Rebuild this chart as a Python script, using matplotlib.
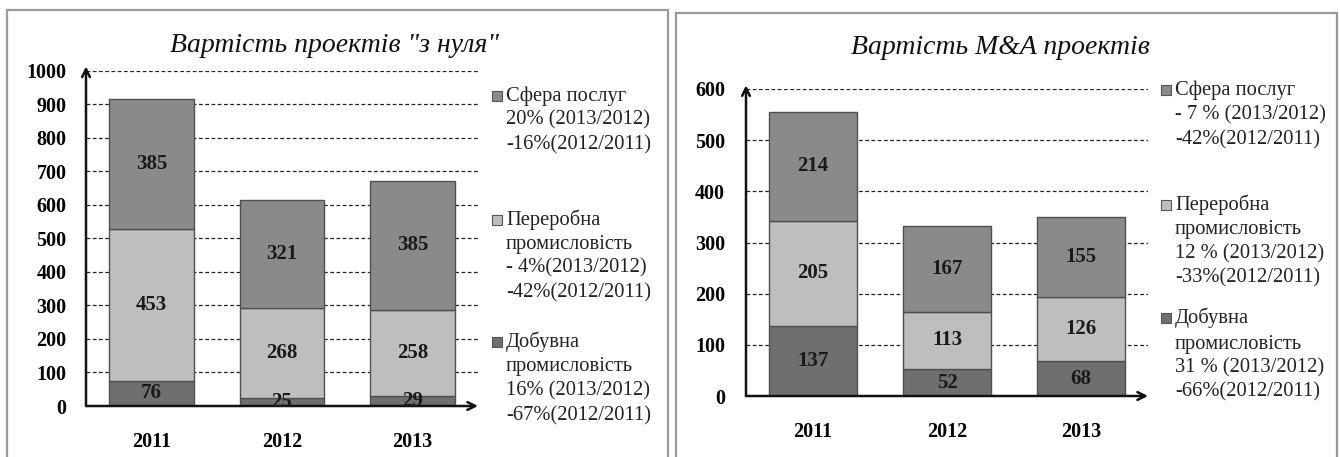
import matplotlib
matplotlib.use("Agg")
import matplotlib.pyplot as plt
from matplotlib.patches import Rectangle

years = ["2011", "2012", "2013"]

# Chart 1: "з нуля"
left_title = 'Вартість проектів "з нуля"'
left_dobuvna = [76, 25, 29]
left_pererobna = [453, 268, 258]
left_sfera = [385, 321, 385]
left_yticks = [0, 100, 200, 300, 400, 500, 600, 700, 800, 900, 1000]
left_legend = [
    ["Сфера послуг", "20% (2013/2012)", "-16%(2012/2011)"],
    ["Переробна", "промисловість", "- 4%(2013/2012)", "-42%(2012/2011)"],
    ["Добувна", "промисловість", "16% (2013/2012)", "-67%(2012/2011)"],
]

# Chart 2: M&A
right_title = "Вартість M&A проектів"
right_dobuvna = [137, 52, 68]
right_pererobna = [205, 113, 126]
right_sfera = [214, 167, 155]
right_yticks = [0, 100, 200, 300, 400, 500, 600]
right_legend = [
    ["Сфера послуг", "- 7 % (2013/2012)", "-42%(2012/2011)"],
    ["Переробна", "промисловість", "12 % (2013/2012)", "-33%(2012/2011)"],
    ["Добувна", "промисловість", "31 % (2013/2012)", "-66%(2012/2011)"],
]

C_SFERA = "#8a8a8a"
C_PERER = "#bebebe"
C_DOB = "#6f6f6f"
EDGE = "#505050"
SERIF = ["Liberation Serif", "DejaVu Serif"]

W, H = 1340, 457
fig = plt.figure(figsize=(W / 100, H / 100), dpi=100)
fig.patch.set_facecolor("white")


def fx(px):
    return px / W


def fy(py):
    return 1 - py / H


# panel borders
for x0, x1, y0 in [(7, 668, 10), (676, 1337, 13)]:
    fig.patches.append(Rectangle((fx(x0), -0.05), fx(x1) - fx(x0), fy(y0) + 0.05,
                                 transform=fig.transFigure, fill=False,
                                 edgecolor="#9a9a9a", linewidth=1.6))


def draw_panel(rect, title, title_xy, dob, per, sfe, yticks, ymax,
               legend, leg_x, leg_sq_x, leg_rows, ypad):
    ax = fig.add_axes(rect)
    x = list(range(len(years)))
    width = 0.65
    b1 = ax.bar(x, dob, width, color=C_DOB, edgecolor=EDGE, linewidth=1, zorder=3)
    bottom2 = dob
    b2 = ax.bar(x, per, width, bottom=bottom2, color=C_PERER, edgecolor=EDGE, linewidth=1, zorder=3)
    bottom3 = [a + b for a, b in zip(dob, per)]
    b3 = ax.bar(x, sfe, width, bottom=bottom3, color=C_SFERA, edgecolor=EDGE, linewidth=1, zorder=3)
    for bars, vals, bots in [(b1, dob, [0] * 3), (b2, per, bottom2), (b3, sfe, bottom3)]:
        for xi, v, b in zip(x, vals, bots):
            ax.text(xi, b + v / 2, str(v), ha="center", va="center",
                    fontsize=15, fontweight="bold", family=SERIF,
                    color="#1a1a1a", zorder=4)
    ax.set_xlim(-0.5, 2.5)
    ax.set_ylim(0, ymax)
    ax.set_yticks(yticks)
    ax.set_yticklabels([str(t) for t in yticks], fontsize=14.5,
                       fontweight="bold", family=SERIF)
    ax.set_xticks(x)
    ax.set_xticklabels(years, fontsize=14.5, fontweight="bold", family=SERIF)
    ax.tick_params(axis="y", length=0, pad=ypad)
    ax.tick_params(axis="x", length=0, pad=19)
    for t in yticks[1:]:
        ax.axhline(t, color="#222222", linewidth=0.9, linestyle=(0, (3, 2)),
                   zorder=1)
    for s in ax.spines.values():
        s.set_visible(False)
    ax.annotate("", xy=(0, 1.012), xytext=(0, 0), xycoords="axes fraction",
                arrowprops=dict(arrowstyle="->", lw=1.8, color="#111111",
                                shrinkA=0, shrinkB=0, mutation_scale=14))
    ax.annotate("", xy=(1.0, 0), xytext=(0, 0), xycoords="axes fraction",
                arrowprops=dict(arrowstyle="->", lw=1.8, color="#111111",
                                shrinkA=0, shrinkB=0, mutation_scale=14))
    fig.text(fx(title_xy[0]), fy(title_xy[1]), title, ha="center", va="center",
             fontsize=20, style="italic", family=SERIF, color="#111111")
    colors = [C_SFERA, C_PERER, C_DOB]
    for entry, ys, col in zip(legend, leg_rows, colors):
        sq = 10
        fig.patches.append(Rectangle((fx(leg_sq_x), fy(ys[0] + sq / 2)), fx(sq), sq / H,
                                     transform=fig.transFigure, facecolor=col,
                                     edgecolor="#555555", linewidth=0.8))
        for line, yy in zip(entry, ys):
            fig.text(fx(leg_x), fy(yy), line, ha="left", va="center",
                     fontsize=14.8, family=SERIF, color="#222222")
    return ax


draw_panel([fx(86), fy(406), fx(478) - fx(86), (406 - 70.5) / H],
           left_title, (335, 45), left_dobuvna, left_pererobna, left_sfera,
           left_yticks, 1000, left_legend, 506, 492,
           [[96, 120, 145], [220, 244, 268, 293], [342, 367, 391, 416]], 14)

draw_panel([fx(746), fy(396), fx(1148) - fx(746), (396 - 89) / H],
           right_title, (1000, 47), right_dobuvna, right_pererobna, right_sfera,
           right_yticks, 600, right_legend, 1175, 1161,
           [[90, 115, 140], [205, 230, 254, 278], [318, 344, 368, 392]], 15)

fig.savefig("out.png", dpi=100, facecolor="white")
